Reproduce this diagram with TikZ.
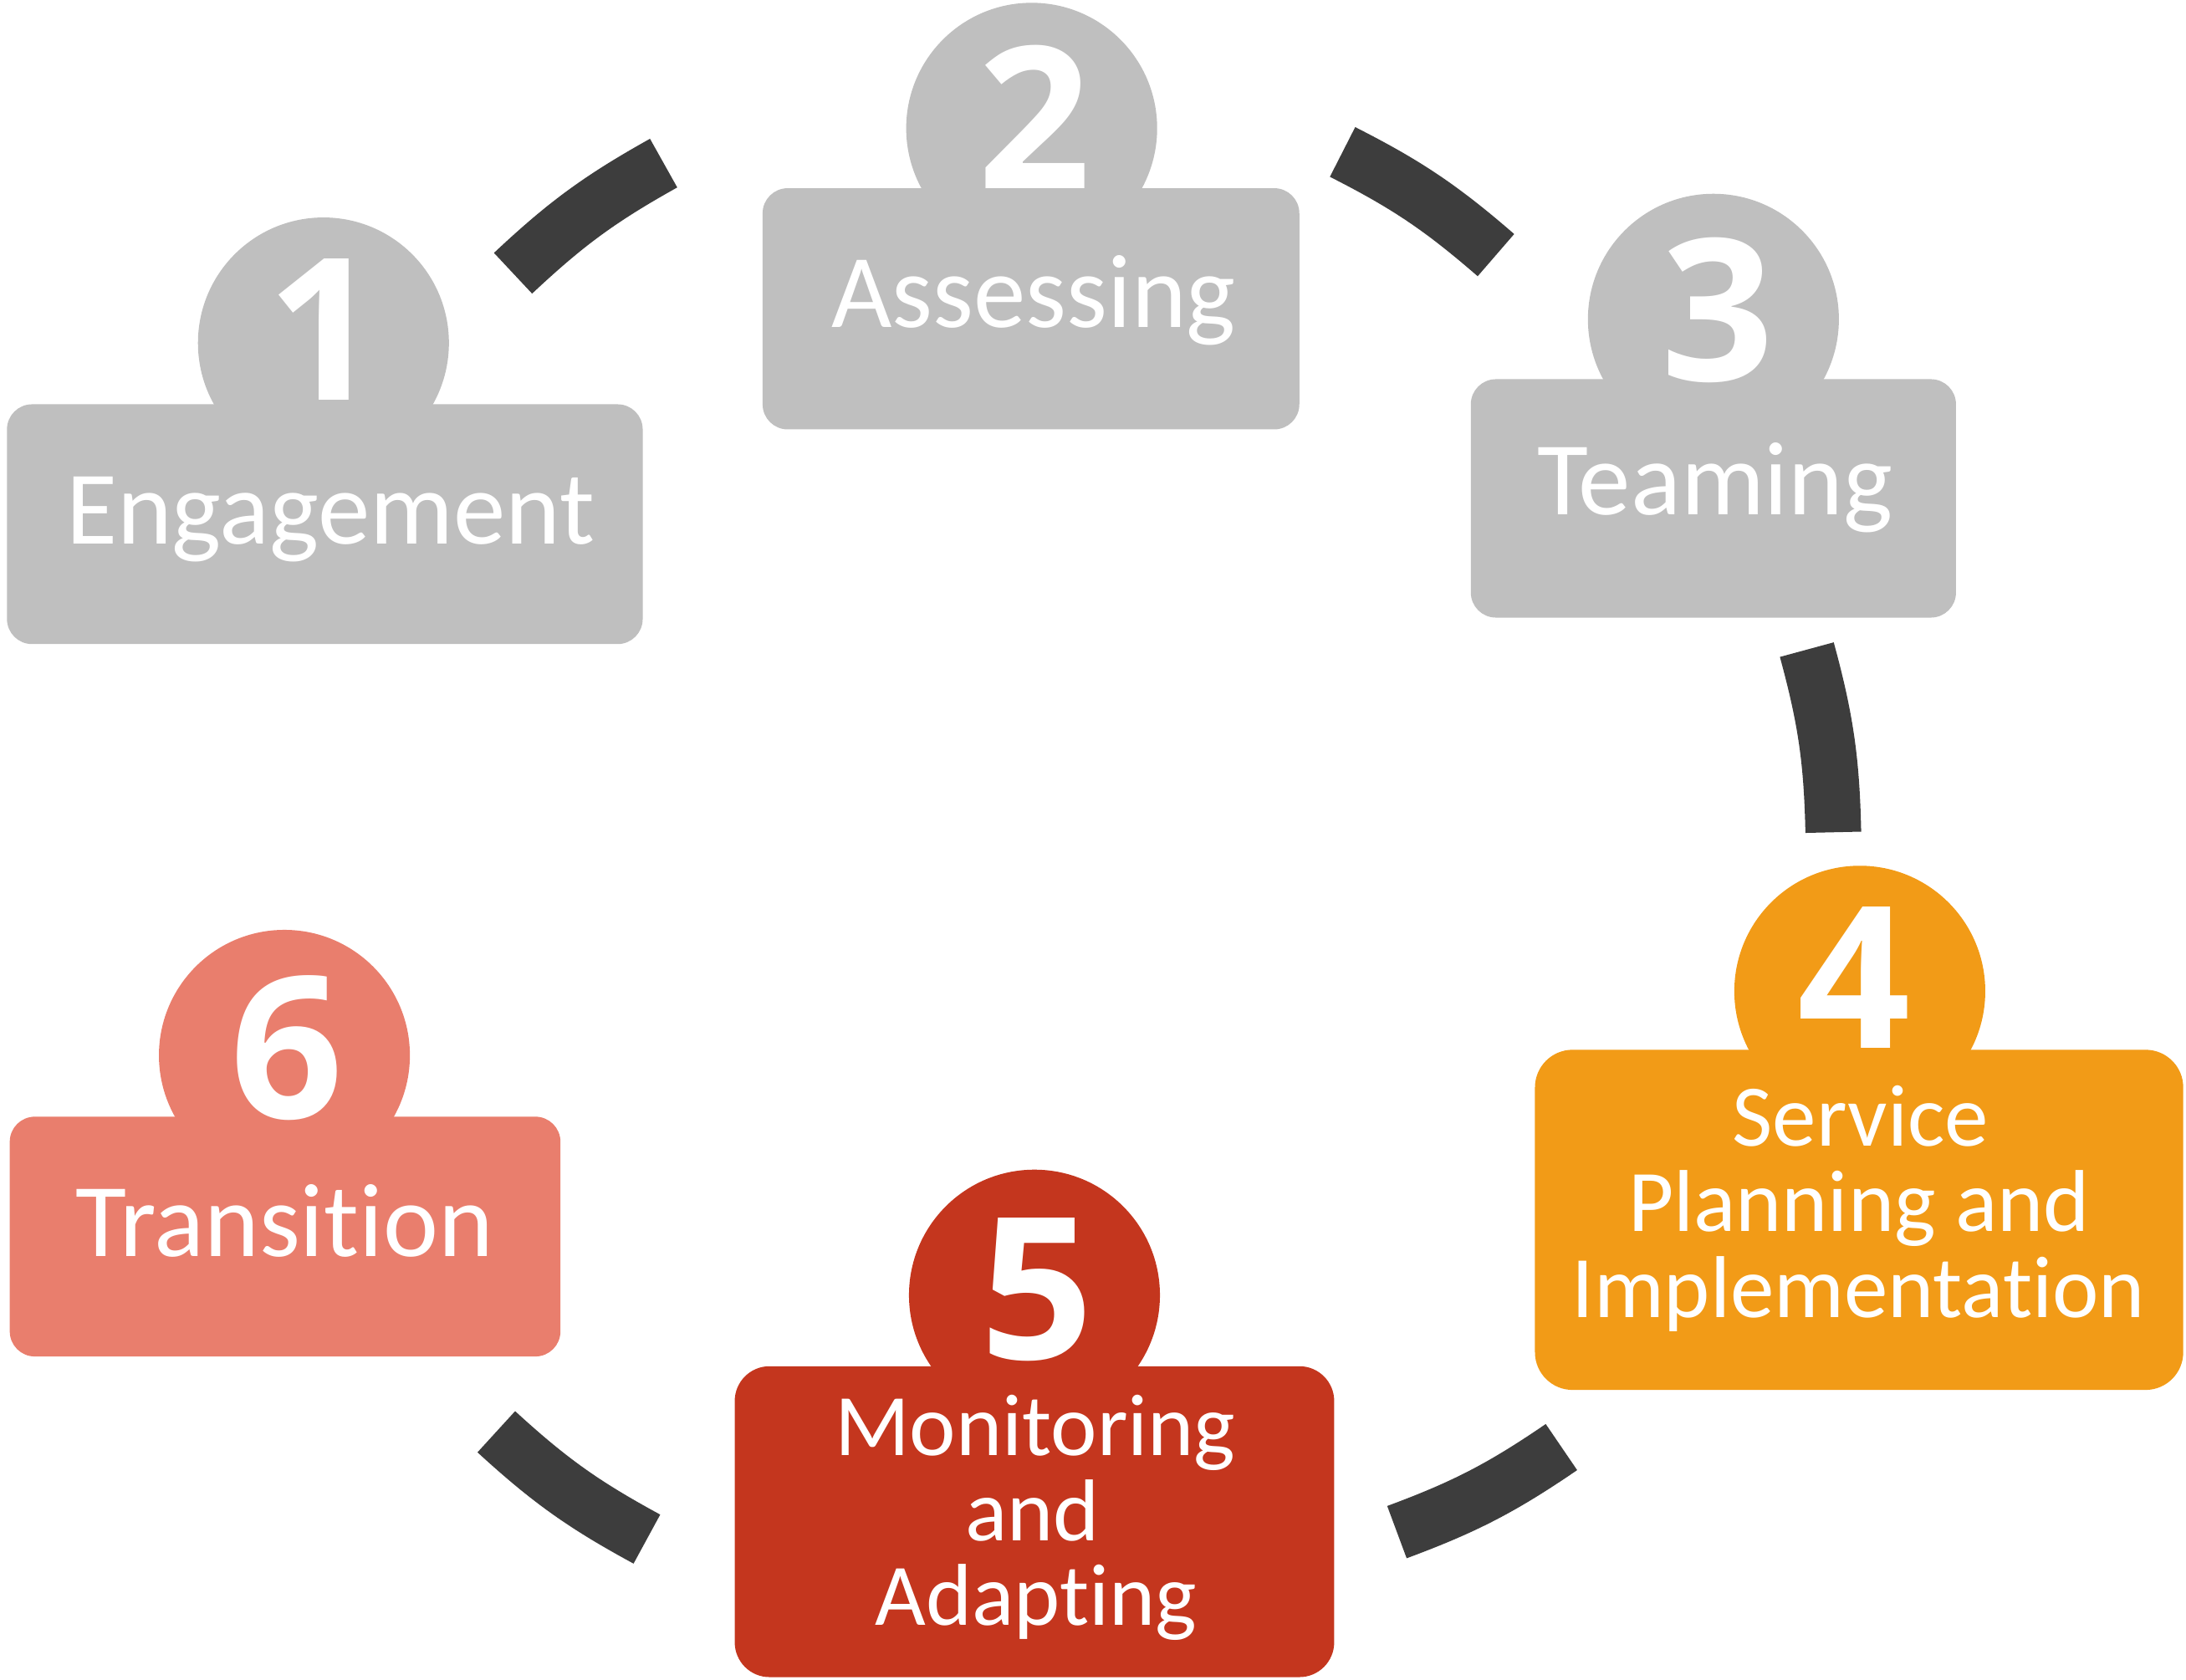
\documentclass[tikz,border=0pt]{standalone}
\usepackage{fontspec}
\setmainfont{Carlito}[Ligatures={NoCommon,NoRequired,NoContextual}]
\newfontfamily\digitfont{Open Sans}
\definecolor{stgray}{HTML}{BFBFBF}
\definecolor{storange}{HTML}{F29B17}
\definecolor{stred}{HTML}{C4361E}
\definecolor{stsalmon}{HTML}{E97E6D}
\definecolor{linkdark}{HTML}{3D3D3D}
\begin{document}
\begin{tikzpicture}[x=0.5pt,y=-0.5pt,
  stagebox/.style={rectangle, inner sep=0pt, draw=none},
  badge/.style={circle, inner sep=0pt, minimum size=90pt, draw=none},
  numtxt/.style={text=white, font=\digitfont\bfseries\fontsize{71}{71}\selectfont, anchor=base, inner sep=0pt},
  lbl/.style={text=white, font=\fontsize{37.5}{40}\selectfont, anchor=base, inner sep=0pt},
  lblsm/.style={text=white, font=\fontsize{31.5}{34}\selectfont, anchor=base, inner sep=0pt},
  link/.style={line width=20pt, draw=linkdark}]
\useasboundingbox (0,0) rectangle (1568,1205);

% ---- connectors ----
\coordinate (a12) at (368,196);  \coordinate (b12) at (476,117);
\coordinate (a23) at (963,109);  \coordinate (b23) at (1073,183);
\coordinate (a34) at (1296,466); \coordinate (b34) at (1315,597);
\coordinate (a45) at (1120,1038);\coordinate (b45) at (1002,1099);
\coordinate (a56) at (464,1104); \coordinate (b56) at (356,1027);
\draw[link] (a12) to[bend left=7] (b12);
\draw[link] (a23) to[bend left=7] (b23);
\draw[link] (a34) to[bend left=7] (b34);
\draw[link] (a45) to[bend left=7] (b45);
\draw[link] (a56) to[bend left=7] (b56);

% ---- stage 1 ----
\node[stagebox, fill=stgray, rounded corners=9pt, minimum width=228pt, minimum height=86pt] (r1) at (233,376) {};
\node[badge, fill=stgray] (c1) at (232,246) {};
\node[numtxt] (n1) at (232,287) {1};
\node[lbl] (t1) at (237,390) {Engagement};

% ---- stage 2 ----
\node[stagebox, fill=stgray, rounded corners=9pt, minimum width=192.5pt, minimum height=86.5pt] (r2) at (739.5,221.5) {};
\node[badge, fill=stgray] (c2) at (740,92) {};
\node[numtxt] (n2) at (742,135) {2};
\node[lbl] (t2) at (741.5,235) {Assessing};

% ---- stage 3 ----
\node[stagebox, fill=stgray, rounded corners=9pt, minimum width=174pt, minimum height=85.5pt] (r3) at (1229,357.5) {};
\node[badge, fill=stgray] (c3) at (1229,229) {};
\node[numtxt] (n3) at (1232,273) {3};
\node[lbl] (t3) at (1230,369) {Teaming};

% ---- stage 4 ----
\node[stagebox, fill=storange, rounded corners=13.5pt, minimum width=232.5pt, minimum height=122pt] (r4) at (1333.5,875) {};
\node[badge, fill=storange] (c4) at (1334,711) {};
\node[numtxt] (n4) at (1330,752) {4};
\node[lblsm] (t4a) at (1334.5,822) {Service};
\node[lblsm] (t4b) at (1333.5,883) {Planning and};
\node[lblsm] (t4c) at (1333,945) {Implementation};

% ---- stage 5 ----
\node[stagebox, fill=stred, rounded corners=12.5pt, minimum width=215pt, minimum height=111.5pt] (r5) at (742,1091.5) {};
\node[badge, fill=stred] (c5) at (742,929) {};
\node[numtxt] (n5) at (744,975) {5};
\node[lblsm] (t5a) at (742.5,1044) {Monitoring};
\node[lblsm] (t5b) at (740.5,1105) {and};
\node[lblsm] (t5c) at (743,1166) {Adapting};

% ---- stage 6 ----
\node[stagebox, fill=stsalmon, rounded corners=9pt, minimum width=197.5pt, minimum height=86pt] (r6) at (204.5,887) {};
\node[badge, fill=stsalmon] (c6) at (204,757) {};
\node[numtxt] (n6) at (206,802) {6};
\node[lbl] (t6) at (204,901) {Transition};
\end{tikzpicture}
\end{document}
